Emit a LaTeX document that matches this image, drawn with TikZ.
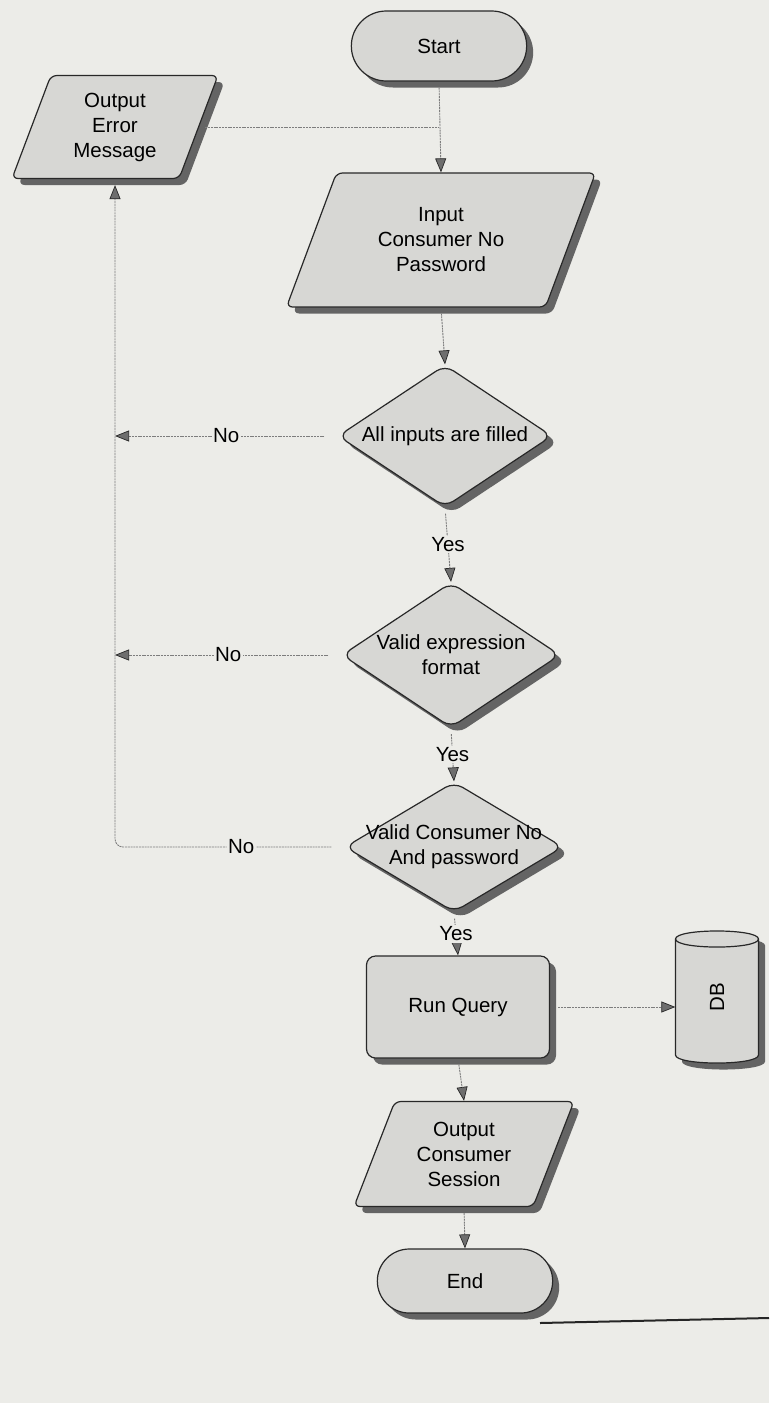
\documentclass[tikz,border=0pt]{standalone}
\usepackage{fontspec}
\setmainfont{Liberation Sans}
\usetikzlibrary{shapes.geometric,shapes.misc,shadows,arrows.meta}
\definecolor{paper}{RGB}{236,236,232}
\definecolor{shapefill}{RGB}{215,215,212}
\definecolor{shadowc}{RGB}{100,100,100}
\definecolor{edgec}{RGB}{40,40,40}
\definecolor{connc}{RGB}{125,125,125}
\definecolor{tipfill}{RGB}{110,110,110}
\tikzset{
 txt/.style={font=\fontsize{20.5}{25}\selectfont, text=black},
 every label/.style={txt, align=center, inner sep=0pt},
 base/.style={txt, draw=edgec, line width=1.2pt, fill=shapefill, align=center,
   drop shadow={shadow xshift=6.5pt, shadow yshift=-6.5pt, fill=shadowc, opacity=1}},
 term/.style={base, rounded rectangle, minimum width=182pt, minimum height=70pt},
 io/.style={base, trapezium, trapezium stretches=true, rounded corners=6pt, inner sep=2pt},
 decision/.style={base, diamond, rounded corners=10pt, inner sep=0pt},
 proc/.style={base, rectangle, rounded corners=9pt, minimum width=183pt, minimum height=102pt},
 conn/.style={draw=connc, line width=0.9pt, dash pattern=on 2pt off 0.8pt},
 arr/.style={conn, -{Triangle[length=14pt, width=11pt, fill=tipfill, color=edgec, line width=0.7pt]}},
 lab/.style={txt, fill=paper, inner sep=1.5pt},
}
\begin{document}
\begin{tikzpicture}[x=1pt,y=-1pt]
\fill[paper] (0,0) rectangle (769,1403);
\useasboundingbox (0,0) rectangle (769,1403);

% nodes
\node[term] (start) at (439,46) {Start};
\node[io, trapezium left angle=70, trapezium right angle=110,
      minimum width=206pt, minimum height=103pt] (err) at (115,127) {Output\\Error\\Message};
\node[io, trapezium left angle=65.5, trapezium right angle=114.5,
      minimum width=309pt, minimum height=134pt] (input) at (441,240) {Input\\Consumer No\\Password};
\node[decision, minimum width=214pt, minimum height=142pt,
      label={center:All inputs are filled}] (d1) at (445,436) {};
\node[decision, minimum width=218pt, minimum height=145pt,
      label={center:Valid expression\\format}] (d2) at (451,655) {};
\node[decision, minimum width=218pt, minimum height=130pt,
      label={center:Valid Consumer No\\And password}] (d3) at (454,847) {};
\node[proc] (run) at (458,1007) {Run Query};
\node[inner sep=0pt, minimum width=83pt, minimum height=132pt] (db) at (717,997) {};
\node[io, trapezium left angle=67, trapezium right angle=113,
      minimum width=220pt, minimum height=105pt] (out) at (464,1154) {Output\\Consumer\\Session};
\node[term, minimum height=64pt] (end) at (465,1281) {End};

% DB cylinder
\begin{scope}[shift={(6.5,6.5)}]
\fill[shadowc] (675.5,939) -- (675.5,1055) .. controls (675.5,1065.7) and (758.5,1065.7) .. (758.5,1055)
  -- (758.5,939) .. controls (758.5,928.3) and (675.5,928.3) .. (675.5,939) -- cycle;
\end{scope}
\filldraw[fill=shapefill, draw=edgec, line width=1.2pt]
  (675.5,939) -- (675.5,1055) .. controls (675.5,1065.7) and (758.5,1065.7) .. (758.5,1055)
  -- (758.5,939) .. controls (758.5,928.3) and (675.5,928.3) .. (675.5,939) -- cycle;
\draw[draw=edgec, line width=1.2pt] (675.5,939) .. controls (675.5,949.7) and (758.5,949.7) .. (758.5,939);
\node[txt, rotate=90] (dbtxt) at (db.center) {DB};

% connectors
\coordinate (j) at (start.south |- err.east);
\draw[arr, shorten <=6pt] (start.south) -- (input.north);
\draw[conn] ([xshift=6pt]err.east) -- (j);
\draw[arr, shorten <=6pt] (input.south) -- (d1.north);
\draw[arr, shorten <=13pt] (d1.west) -- node[lab]{No} (d1.west -| err.south);
\draw[arr, shorten <=6pt] (d1.south) -- node[lab]{Yes} (d2.north);
\draw[arr, shorten <=13pt] (d2.west) -- node[lab]{No} (d2.west -| err.south);
\draw[arr, shorten <=6pt] (d2.south) -- node[lab]{Yes} (d3.north);
\draw[arr, shorten <=13pt, shorten >=6pt, rounded corners=8pt] (d3.west) -- node[lab, pos=0.45]{No} (d3.west -| err.south) -- (err.south);
\draw[arr, shorten <=6pt] (d3.south) -- node[lab]{Yes} (run.north);
\draw[arr, shorten <=8pt] (run.east) -- (run.east -| db.west);
\draw[arr, shorten <=6pt] (run.south) -- (out.north);
\draw[arr, shorten <=6pt] (out.south) -- (end.north);

% page edge
\draw[line width=2pt, black!85] (540,1323) -- (769,1318);
\end{tikzpicture}
\end{document}
